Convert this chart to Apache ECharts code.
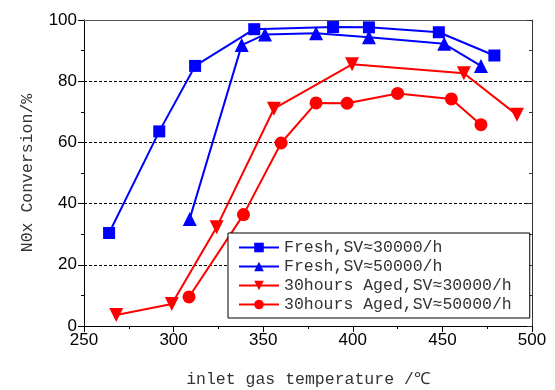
<!DOCTYPE html>
<html>
<head>
<meta charset="utf-8">
<script src="https://cdn.jsdelivr.net/npm/echarts@6/dist/echarts.min.js"></script>
<style>
    html, body { margin: 0; padding: 0; background: #fff; }
    #myChart { width: 555px; height: 390px; }
</style>
</head>
<body>
<div id="myChart"></div>
<script>
// values: [inlet temperature, NOx conversion %]
var fresh_30000 = [[264, 30.4], [292, 63.6], [312, 85], [345, 97], [389, 97.7], [409, 97.6], [448, 96], [479, 88.4]];
var fresh_50000 = [[309, 35], [338, 91.8], [351, 95.3], [379.5, 95.7], [409, 94.4], [451, 92.2], [471.5, 85]];
var aged_30000 = [[268, 3.6], [299, 7.2], [324, 32.3], [356, 71], [399.6, 85.5], [462, 82.6], [491.6, 69]];
var aged_50000 = [[308.6, 9.5], [339, 36.4], [360, 59.8], [379.5, 72.9], [396.8, 72.8], [425, 76], [455, 74.2], [471.5, 65.8]];
var series_names = ['Fresh,SV≈30000/h', 'Fresh,SV≈50000/h', '30hours Aged,SV≈30000/h', '30hours Aged,SV≈50000/h'];

var serif_font = '"Liberation Mono", "DejaVu Sans Mono", monospace';
var label_font = '"Liberation Sans", Arial, sans-serif';

function make_series(name, data, color, symbol, size, rotate) {
    return {
        name: name,
        type: 'line',
        data: data,
        symbol: symbol,
        symbolSize: size,
        symbolRotate: rotate || 0,
        lineStyle: { color: color, width: 2 },
        itemStyle: { color: color },
        emphasis: { disabled: true },
        z: 3
    };
}

var myChart = echarts.init(document.getElementById('myChart'));
var option = {
    animation: false,
    backgroundColor: '#fff',
    grid: { left: 84, right: 23, top: 20, bottom: 64, outerBoundsMode: 'none' },
    legend: {
        left: 228,
        top: 233,
        orient: 'vertical',
        itemWidth: 40,
        itemHeight: 12,
        itemGap: 2,
        padding: [6, 18, 5, 10],
        backgroundColor: '#fff',
        borderColor: '#000',
        borderWidth: 1,
        textStyle: { fontFamily: serif_font, fontSize: 16.5, color: '#333' },
        data: series_names,
        z: 10
    },
    xAxis: [{
        type: 'value',
        min: 250, max: 500, interval: 50,
        name: 'inlet gas temperature /℃',
        nameLocation: 'middle',
        nameGap: 45,
        nameTextStyle: { fontFamily: serif_font, fontSize: 16.5, color: '#333' },
        axisLine: { show: true, lineStyle: { color: '#000', width: 1 } },
        axisTick: { show: true, length: 6, lineStyle: { color: '#000' } },
        minorTick: { show: true, splitNumber: 2, length: 3, lineStyle: { color: '#000' } },
        axisLabel: { fontFamily: label_font, fontSize: 17, color: '#000', margin: 6 },
        splitLine: { show: false }
    }, {
        type: 'value', position: 'top',
        min: 250, max: 500, interval: 50,
        axisLine: { show: true, onZero: false, lineStyle: { color: '#555', width: 1 } },
        axisTick: { show: false },
        axisLabel: { show: false },
        splitLine: { show: false }
    }],
    yAxis: [{
        type: 'value',
        min: 0, max: 100, interval: 20,
        name: 'N0x Conversion/%',
        nameLocation: 'middle',
        nameGap: 48,
        nameTextStyle: { fontFamily: serif_font, fontSize: 16.5, color: '#333' },
        axisLine: { show: true, lineStyle: { color: '#000', width: 1 } },
        axisTick: { show: true, length: 6, lineStyle: { color: '#000' } },
        minorTick: { show: true, splitNumber: 2, length: 3, lineStyle: { color: '#000' } },
        axisLabel: { fontFamily: label_font, fontSize: 17, color: '#000', margin: 7 },
        splitLine: {
            show: true,
            showMinLine: false,
            showMaxLine: false,
            lineStyle: { color: '#000', type: [3, 2], width: 1 }
        }
    }, {
        type: 'value', position: 'right',
        min: 0, max: 100, interval: 20,
        axisLine: { show: true, onZero: false, lineStyle: { color: '#333', width: 1 } },
        axisTick: { show: true, inside: true, length: 5, lineStyle: { color: '#333' } },
        minorTick: { show: true, splitNumber: 2, length: 3, lineStyle: { color: '#333' } },
        axisLabel: { show: false },
        splitLine: { show: false }
    }],
    series: [
        make_series(series_names[0], fresh_30000, '#0000ff', 'rect', 12),
        make_series(series_names[1], fresh_50000, '#0000ff', 'triangle', 14),
        make_series(series_names[2], aged_30000, '#ff0000', 'triangle', 14, 180),
        make_series(series_names[3], aged_50000, '#ff0000', 'circle', 13)
    ]
};
myChart.setOption(option);
</script>
</body>
</html>
